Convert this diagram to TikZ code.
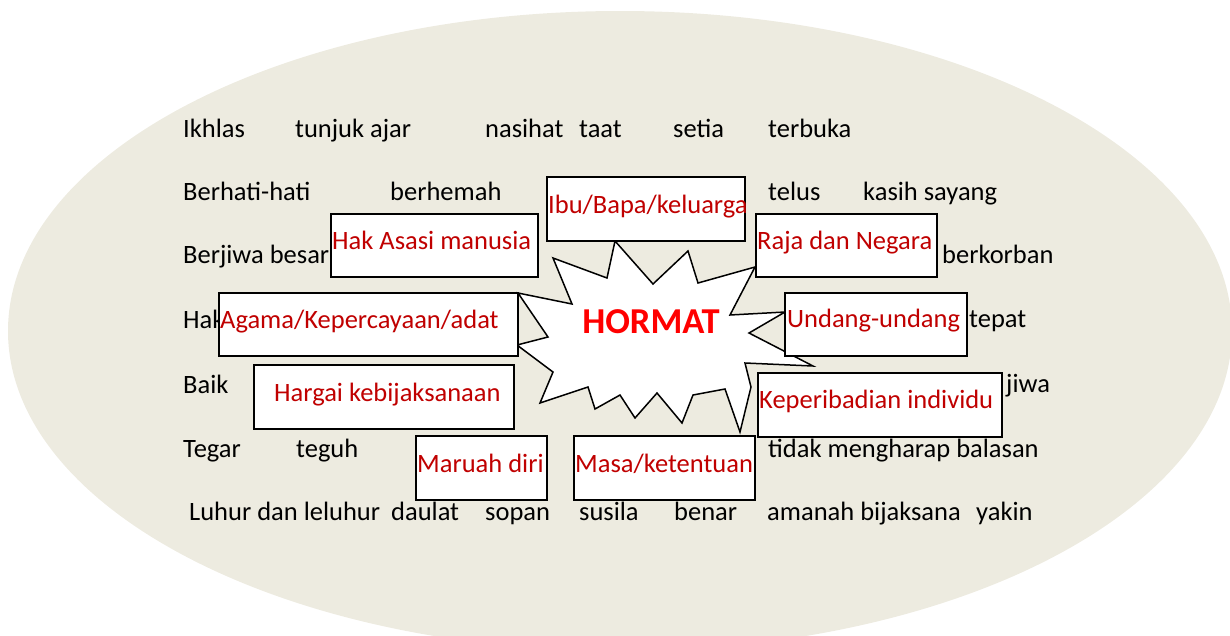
\documentclass[tikz,border=0pt]{standalone}
\usepackage{fontspec}
\setmainfont{Carlito}
\usepackage{tikz}
\definecolor{latar}{HTML}{EDEBE0}
\definecolor{nilaimerah}{HTML}{C00000}
\definecolor{hormatmerah}{HTML}{FF0000}
\tikzset{
  kata/.style={anchor=base west,inner sep=0pt,font=\fontsize{26.5}{30}\selectfont},
  nilai/.style={kata,text=nilaimerah},
  kotak/.style={draw=black,fill=white,line width=1.7pt,inner sep=0pt,anchor=north west},
  bintang/.style={draw=black,fill=white,line width=1.5pt,line join=miter}
}
\begin{document}
\begin{tikzpicture}[x=1pt,y=-1pt]
    \useasboundingbox (0,0) rectangle (1230,635);
    \clip (0,0) rectangle (1230,635);
    \fill[latar] (620,331) ellipse [x radius=612pt,y radius=320pt];
    % kata-kata latar
    \foreach \px/\py/\teks [count=\i] in {
        183/137/Ikhlas, 295/137/tunjuk ajar, 485/137/nasihat, 579/137/taat,
        673/137/setia, 768/137/terbuka,
        183/200/Berhati-hati, 390/200/berhemah, 768/200/telus, 863/200/kasih sayang,
        183/263/Berjiwa besar, 942/263/berkorban,
        183/328/Hak, 969/327/tepat,
        183/393/Baik, 1006/392/jiwa,
        183/457/Tegar, 296/457/teguh, 768/457/tidak mengharap balasan,
        189/520/Luhur dan leluhur, 391/520/daulat, 485/520/sopan, 579/520/susila,
        674/520/benar, 767/520/amanah bijaksana, 976/520/yakin} {
      \node[kata] (w\i) at (\px,\py) {\teks};
    }
    % letupan
    \draw[bintang] (553,258) -- (607,278) -- (615,241) -- (653,284) -- (688,251)
      -- (698,283) -- (755,267) -- (730,315) -- (785,312) -- (749,333)
      -- (813,366) -- (745,363) -- (751,387) -- (740,432) -- (725,389)
      -- (693,395) -- (682,423) -- (657,393) -- (635,418) -- (620,395)
      -- (595,409) -- (588,387) -- (540,403) -- (553,372) -- (517,345)
      -- (548,337) -- (518,293) -- (572,304) -- cycle;
    \node[font=\fontsize{36.5}{40}\selectfont\bfseries,text=hormatmerah] (hormat) at (651,322) {HORMAT};
    % kotak nilai
    \node[kotak,minimum width=198pt,minimum height=64pt] (ibu) at (546,176) {};
    \node[nilai] (ibu-t) at (548,213) {Ibu/Bapa/keluarga};
    \node[kotak,minimum width=207pt,minimum height=63pt] (hak) at (330,213) {};
    \node[nilai] (hak-t) at (332,249) {Hak Asasi manusia};
    \node[kotak,minimum width=181pt,minimum height=63pt] (raja) at (755,213) {};
    \node[nilai] (raja-t) at (757,249) {Raja dan Negara};
    \node[kotak,minimum width=299pt,minimum height=63pt] (agama) at (218,292) {};
    \node[nilai] (agama-t) at (220,328) {Agama/Kepercayaan/adat};
    \node[kotak,minimum width=182pt,minimum height=63pt] (undang) at (784,292) {};
    \node[nilai] (undang-t) at (787,327) {Undang-undang};
    \node[kotak,minimum width=260pt,minimum height=64pt] (hargai) at (253,364) {};
    \node[nilai] (hargai-t) at (274,401) {Hargai kebijaksanaan};
    \node[kotak,minimum width=244pt,minimum height=64pt] (peribadi) at (757,372) {};
    \node[nilai] (peribadi-t) at (759,408) {Keperibadian individu};
    \node[kotak,minimum width=131pt,minimum height=64pt] (maruah) at (415,435) {};
    \node[nilai] (maruah-t) at (417,472) {Maruah diri};
    \node[kotak,minimum width=181pt,minimum height=64pt] (masa) at (573,435) {};
    \node[nilai] (masa-t) at (575,472) {Masa/ketentuan};
  \end{tikzpicture}
\end{document}
